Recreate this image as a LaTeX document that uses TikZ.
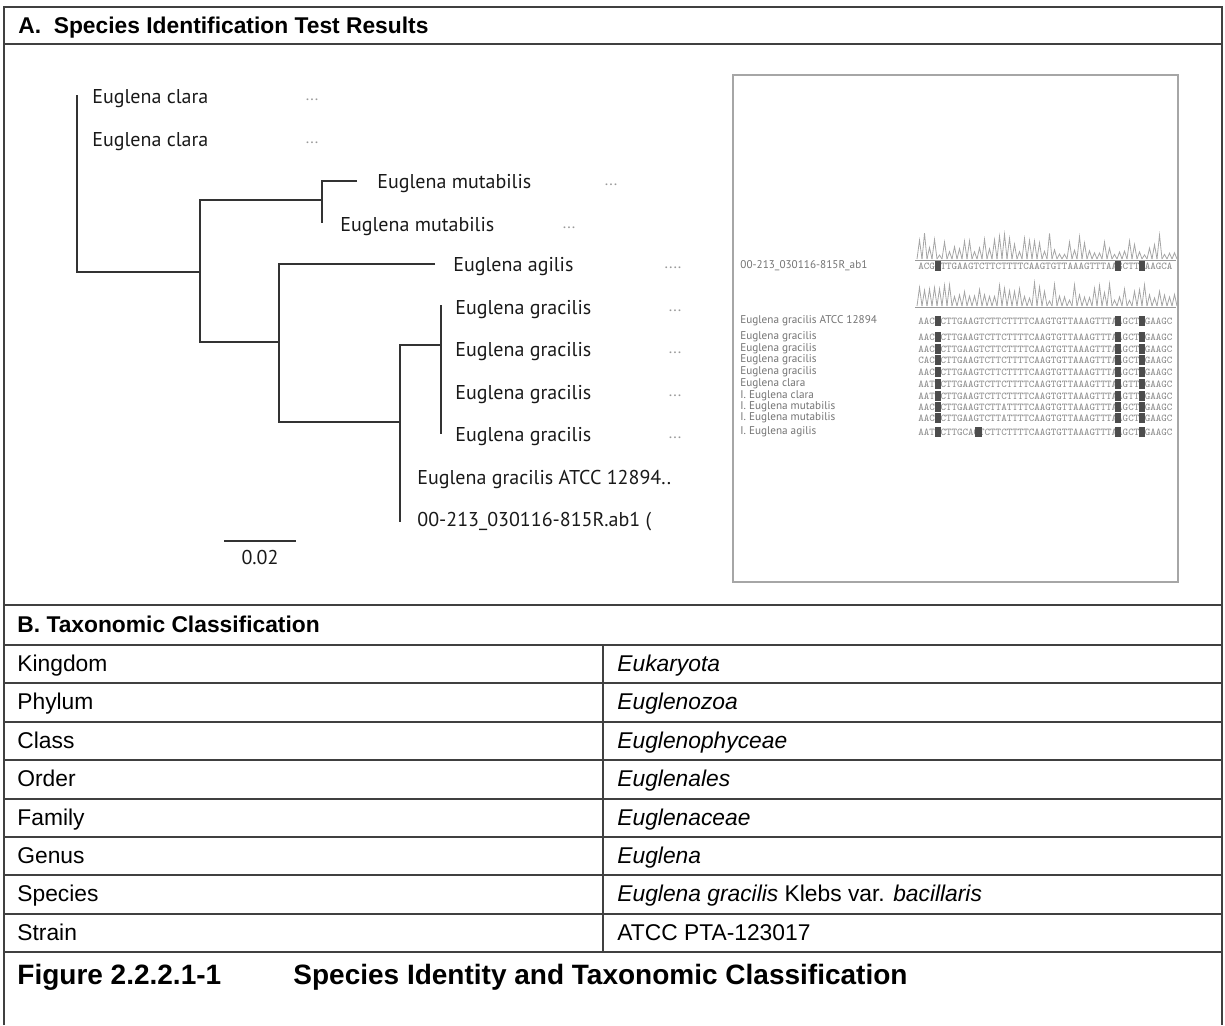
\documentclass[tikz,border=0pt]{standalone}
\usepackage{fontspec}
\setmainfont{Liberation Sans}
\newfontfamily\treefont{PT Sans}
\usetikzlibrary{positioning}

\begin{document}
\begin{tikzpicture}[
    x=0.5pt, y=-0.5pt,
    rule/.style={draw=black!75, line width=1pt},
    branch/.style={draw=black!80, line width=0.85pt},
    leaf/.style={anchor=base west, yshift=-3pt, inner sep=0pt, font=\treefont\fontsize{10}{12}\selectfont, text=black!90},
    more/.style={inner sep=0pt, font=\treefont\fontsize{8}{8}\selectfont, text=black!40},
    cell/.style={anchor=base west, yshift=-3.6pt, inner sep=0pt, font=\fontsize{11.4}{13}\selectfont},
    heading/.style={anchor=base west, yshift=-3.6pt, inner sep=0pt, font=\fontsize{11.4}{13}\selectfont\bfseries},
    figcap/.style={anchor=base west, yshift=-4.5pt, inner sep=0pt, font=\fontsize{14}{16}\selectfont\bfseries},
    seqname/.style={anchor=west, inner sep=0pt, font=\treefont\fontsize{5.6}{6}\selectfont, text=black!55},
    seqrow/.style={anchor=west, inner sep=0pt, font=\ttfamily\fontsize{5.2}{6}\selectfont, text=black!45},
    basecall/.style={fill=black!70},
    trace/.style={draw=black!35, line width=0.4pt}
]
\useasboundingbox (0,0) rectangle (1225,1025);

% frame and table rules
\draw[rule] (4,1025) -- (4,7) -- (1222,7) -- (1222,1025);
\draw[rule] (4,44) -- (1222,44);
\draw[rule] (4,605) -- (1222,605);
\foreach \i in {0,...,8}
    \draw[rule] (4,{645+38.4*\i}) -- (1222,{645+38.4*\i});
\draw[rule] (603,645) -- (603,952.2);

\node[heading] (hA) at (18,26) {A.\ \ Species Identification Test Results};
\node[heading] (hB) at (17,625) {B. Taxonomic Classification};

% tree
\coordinate (t-cla1) at (77,95);
\coordinate (n1) at (200,272);
\coordinate (n2) at (322,200);
\coordinate (n3) at (279,342);
\coordinate (n4) at (400,422);
\coordinate (n5) at (441,345);
\coordinate (t-mut1) at (357,181);
\coordinate (t-mut2) at (322,223);
\coordinate (t-agi) at (435,264);
\coordinate (t-gra1) at (441,305);
\coordinate (t-gra4) at (441,434);
\coordinate (t-qry) at (400,522);

\draw[branch] (t-cla1) |- (n1);
\draw[branch] (t-mut1) -| (n2) -- (t-mut2);
\draw[branch] (n2) -| (n1) |- (n3);
\draw[branch] (t-agi) -| (n3) |- (n4);
\draw[branch] (n5) -| (n4) -- (t-qry);
\draw[branch] (t-gra1) -- (t-gra4);

\node[leaf] (cla1) at (92,97) {Euglena clara};
\node[leaf] (cla2) at (92,140) {Euglena clara};
\node[leaf] (mut1) at (377,182) {Euglena mutabilis};
\node[leaf] (mut2) at (340,225) {Euglena mutabilis};
\node[leaf] (agi) at (453,265) {Euglena agilis};
\node[leaf] (gra1) at (455,308) {Euglena gracilis};
\node[leaf] (gra2) at (455,350) {Euglena gracilis};
\node[leaf] (gra3) at (455,393) {Euglena gracilis};
\node[leaf] (gra4) at (455,435) {Euglena gracilis};
\node[leaf] (atcc) at (417,478) {Euglena gracilis ATCC 12894..};
\node[leaf] (qry) at (417,520) {00-213\_030116-815R.ab1 (};

\node[more] (d-cla1) at (312,100) {...};
\node[more] (d-cla2) at (312,143) {...};
\node[more] (d-mut1) at (611,185) {...};
\node[more] (d-mut2) at (569,228) {...};
\node[more] (d-agi) at (673,268) {....};
\node[more] (d-gra1) at (675,311) {...};
\node[more] (d-gra2) at (675,353) {...};
\node[more] (d-gra3) at (675,396) {...};
\node[more] (d-gra4) at (675,438) {...};

\coordinate (bar-l) at (224,541);
\coordinate (bar-r) at (296,541);
\draw[branch] (bar-l) -- (bar-r);
\node[leaf, anchor=north] (bar) at (260,544) {0.02};

% alignment panel
\draw[draw=black!35, line width=0.8pt] (733,75) rectangle (1178,582);
\pgfmathsetseed{11}
\foreach \p in {0,...,51} {
    \pgfmathsetmacro\h{3+rnd*24}
    \draw[trace] ({917+5*\p},259) -- ++(2.5,-\h) -- ++(2.5,\h);
}
\foreach \p in {0,...,51} {
    \pgfmathsetmacro\h{5+rnd*20}
    \draw[trace] ({917+5*\p},306) -- ++(2.5,-\h) -- ++(2.5,\h);
}
\draw[black!40] (915,260) -- (1176,260);
\draw[black!40] (915,307) -- (1176,307);

\foreach \y/\name/\s in {
    266/00-213\_030116-815R\_ab1/ACGCTTGAAGTCTTCTTTTCAAGTGTTAAAGTTTAAGCTTGAAGCA,
    321/Euglena gracilis ATCC 12894/AACGCTTGAAGTCTTCTTTTCAAGTGTTAAAGTTTAAGCTTGAAGC,
    337/Euglena gracilis/AACGCTTGAAGTCTTCTTTTCAAGTGTTAAAGTTTAAGCTTGAAGC,
    349/Euglena gracilis/AACGCTTGAAGTCTTCTTTTCAAGTGTTAAAGTTTAAGCTTGAAGC,
    360/Euglena gracilis/CACGCTTGAAGTCTTCTTTTCAAGTGTTAAAGTTTAAGCTTGAAGC,
    372/Euglena gracilis/AACGCTTGAAGTCTTCTTTTCAAGTGTTAAAGTTTAAGCTTGAAGC,
    384/Euglena clara/AATGCTTGAAGTCTTCTTTTCAAGTGTTAAAGTTTAAGTTTGAAGC,
    396/I. Euglena clara/AATGCTTGAAGTCTTCTTTTCAAGTGTTAAAGTTTAAGTTTGAAGC,
    407/I. Euglena mutabilis/AACGCTTGAAGTCTTATTTTCAAGTGTTAAAGTTTAAGCTTGAAGC,
    418/I. Euglena mutabilis/AACGCTTGAAGTCTTATTTTCAAGTGTTAAAGTTTAAGCTTGAAGC,
    432/I. Euglena agilis/AATGCTTGCAGTCTTCTTTTCAAGTGTTAAAGTTTAAGCTTGAAGC} {
    \node[seqname] at (740,\y) {\name};
    \node[seqrow] at (918,\y) {\s};
    \foreach \bx in {938,1118,1142}
        \fill[basecall] ({\bx-3},{\y-5}) rectangle ++(6,10);
}
\fill[basecall] (975,427) rectangle ++(7,10);

% table
\foreach \k/\v [count=\i] in {
    Kingdom/\textit{Eukaryota},
    Phylum/\textit{Euglenozoa},
    Class/\textit{Euglenophyceae},
    Order/\textit{Euglenales},
    Family/\textit{Euglenaceae},
    Genus/\textit{Euglena},
    Species/{\textit{Euglena gracilis} Klebs var. \textit{bacillaris}},
    Strain/ATCC PTA-123017} {
    \node[cell] (k\i) at (17,{645+38.4*(\i-0.5)}) {\k};
    \node[cell] (v\i) at (617,{645+38.4*(\i-0.5)}) {\v};
}

\node[figcap] (fig) at (17,975) {Figure 2.2.2.1-1};
\node[figcap] (cap) at (293,975) {Species Identity and Taxonomic Classification};
\end{tikzpicture}
\end{document}
